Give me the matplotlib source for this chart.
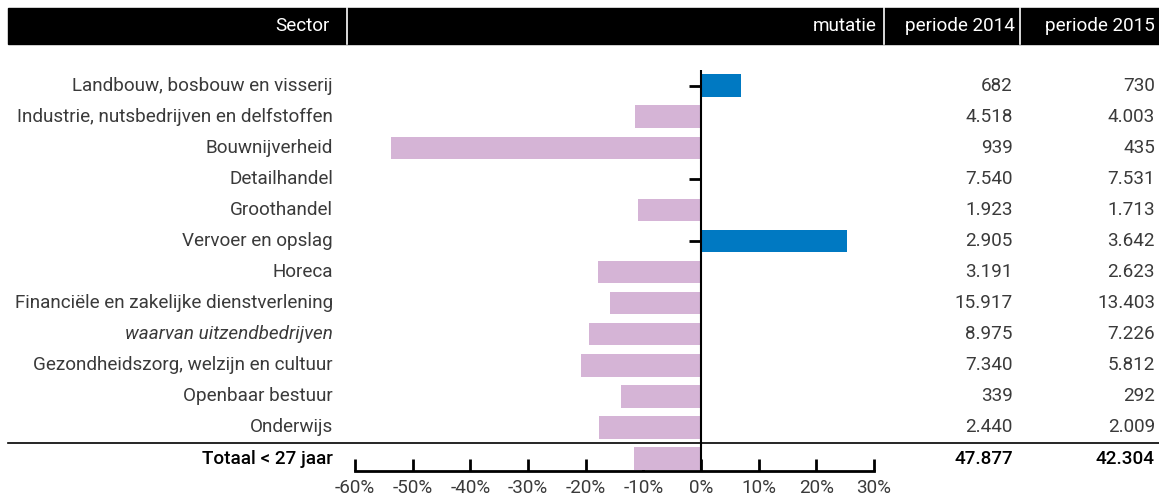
"""Jongeren < 27 jaar per sector: mutatie 2014-2015."""
import matplotlib.pyplot as plt
import matplotlib.transforms as mtransforms
from matplotlib.patches import Rectangle

plt.rcParams['font.family'] = ['Roboto', 'DejaVu Sans']

sectors = [
    "Landbouw, bosbouw en visserij",
    "Industrie, nutsbedrijven en delfstoffen",
    "Bouwnijverheid",
    "Detailhandel",
    "Groothandel",
    "Vervoer en opslag",
    "Horeca",
    "Financiële en zakelijke dienstverlening",
    "waarvan uitzendbedrijven",
    "Gezondheidszorg, welzijn en cultuur",
    "Openbaar bestuur",
    "Onderwijs",
    "Totaal < 27 jaar",
]
mutatie = [7.0, -11.4, -53.7, -0.1, -10.9, 25.4, -17.8, -15.8, -19.5, -20.8, -13.9, -17.7, -11.6]
periode_2014 = ["682", "4.518", "939", "7.540", "1.923", "2.905", "3.191", "15.917",
                "8.975", "7.340", "339", "2.440", "47.877"]
periode_2015 = ["730", "4.003", "435", "7.531", "1.713", "3.642", "2.623", "13.403",
                "7.226", "5.812", "292", "2.009", "42.304"]
xticks = [-60, -50, -40, -30, -20, -10, 0, 10, 20, 30]

W, H = 1159, 497
BLUE = '#0079c2'
PINK = '#d5b4d6'
GREY = '#3a3a3a'
FS = 13.6

fig = plt.figure(figsize=(W / 100, H / 100), dpi=100)

# bar axes placed in pixel units
x0, x1 = 355, 874
y_top, y_bot = 70, 471
ax = fig.add_axes([x0 / W, 1 - y_bot / H, (x1 - x0) / W, (y_bot - y_top) / H])
ax.set_xlim(-60, 30)
ax.set_ylim(len(sectors) - 1 + 0.4, -0.5)

rows = list(range(len(sectors)))
# small ticks left of the zero line, mostly covered by bars
ax.hlines(rows[:-1], -2.1, 0, color='black', lw=2, zorder=1)
colors = [BLUE if v > 0 else PINK for v in mutatie]
ax.barh(rows, mutatie, height=0.72, color=colors, zorder=2)
ax.vlines(0, -0.5, len(sectors) - 1 + 0.4, color='black', lw=1.5, zorder=3)

for s in ['top', 'right', 'left']:
    ax.spines[s].set_visible(False)
ax.spines['bottom'].set_linewidth(2)
ax.set_yticks([])
ax.set_xticks(xticks)
ax.set_xticklabels([f"{t}%" for t in xticks])
ax.tick_params(axis='x', direction='in', length=9, width=2, pad=6,
               labelsize=FS, labelcolor=GREY)
ax.patch.set_visible(False)

# text columns: x in figure fraction, y in data rows
tr = mtransforms.blended_transform_factory(fig.transFigure, ax.transData)
for i, name in enumerate(sectors):
    total = i == len(sectors) - 1
    style = 'italic' if name.startswith('waarvan') else 'normal'
    col = 'black' if total else GREY
    weight = 'medium' if total else 'normal'
    kw = dict(transform=tr, va='center', ha='right', fontsize=FS,
              color=col, fontweight=weight, clip_on=False)
    ax.text(333 / W, i, name, style=style, **kw)
    ax.text(1013 / W, i, periode_2014[i], **kw)
    ax.text(1155 / W, i, periode_2015[i], **kw)

# separator above total
ax.plot([8 / W, 1], [len(sectors) - 1.5] * 2, transform=tr, color='black',
        lw=1.2, clip_on=False)

# header
fig.patches.append(Rectangle((8 / W, 1 - 44 / H), 1 - 8 / W, 36 / H,
                             transform=fig.transFigure, color='black'))
for sx in [347, 884, 1020]:
    fig.add_artist(plt.Line2D([sx / W] * 2, [1 - 44 / H, 1 - 8 / H],
                              transform=fig.transFigure, color='white', lw=1.2))
hy = 1 - 26 / H
for hx, txt in [(330, "Sector"), (877, "mutatie"), (1015, "periode 2014"), (1155, "periode 2015")]:
    fig.text(hx / W, hy, txt, ha='right', va='center', color='white', fontsize=FS)

fig.savefig('out.png', dpi=100)
